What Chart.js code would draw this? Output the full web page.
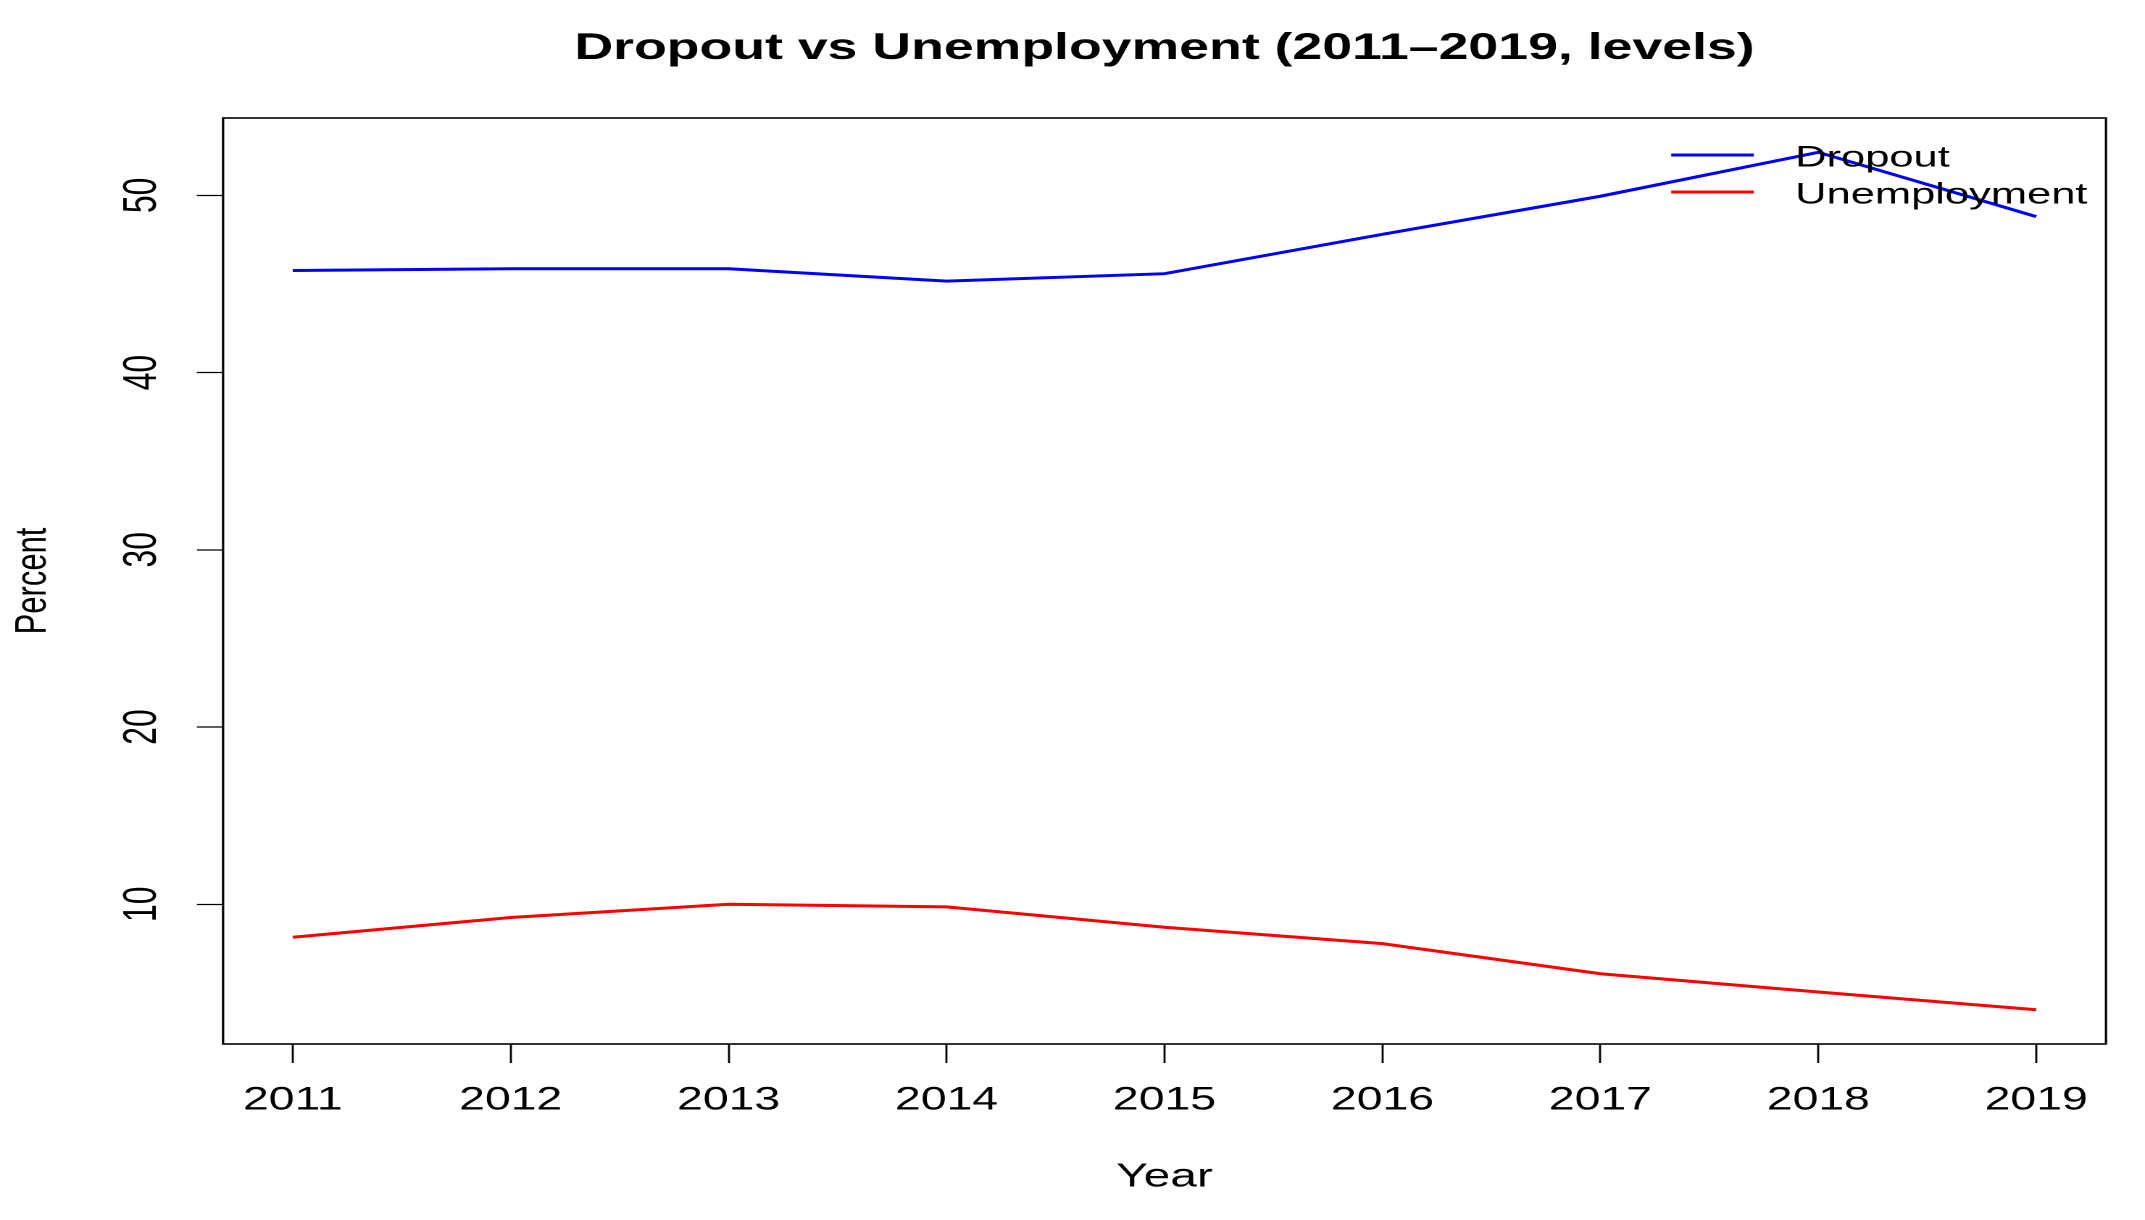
<!DOCTYPE html>
<html>
<head>
<meta charset="utf-8">
<title>Dropout vs Unemployment</title>
<script src="https://cdn.jsdelivr.net/npm/chart.js@4.4.1/dist/chart.umd.min.js"></script>
<style>
  html, body { margin: 0; padding: 0; background: #fff; overflow: hidden; }
  /* the picture is stretched sideways: draw it narrower, then widen it */
  #wrap { width: 1480px; height: 1220px; transform: scaleX(1.4493); transform-origin: 0 0; }
</style>
</head>
<body>
<div id="wrap"><canvas id="chart"></canvas></div>
<script>
const years = [2011, 2012, 2013, 2014, 2015, 2016, 2017, 2018, 2019];
const dropout = [45.76, 45.86, 45.86, 45.16, 45.58, 47.8, 49.95, 52.43, 48.8];
const unemployment = [8.14, 9.25, 10.0, 9.85, 8.7, 7.78, 6.08, 5.05, 4.05];
const yTicks = [10, 20, 30, 40, 50];

const FONT = "'Liberation Sans', Arial, sans-serif";

// base R pads the data range by 4% on each side
const allValues = dropout.concat(unemployment);
const yLo = Math.min(...allValues);
const yHi = Math.max(...allValues);
const yPad = (yHi - yLo) * 0.04;
const xPad = (years[years.length - 1] - years[0]) * 0.04;

const toPoints = values => years.map((year, i) => ({ x: year, y: values[i] }));

// box around the plot and the borderless legend in the top right corner
const frameAndLegend = {
  id: "frameAndLegend",
  afterDatasetsDraw(chart) {
    const { ctx, chartArea: a } = chart;
    ctx.save();
    ctx.strokeStyle = "#000";
    ctx.lineWidth = 1.6;
    ctx.strokeRect(a.left, a.top, a.right - a.left, a.bottom - a.top);

    ctx.font = `30px ${FONT}`;
    ctx.textBaseline = "middle";
    ctx.textAlign = "left";
    chart.data.datasets.forEach((ds, i) => {
      const y = a.top + 37 + i * 37;
      ctx.strokeStyle = ds.borderColor;
      ctx.lineWidth = 3;
      ctx.beginPath();
      ctx.moveTo(a.right - 300, y);
      ctx.lineTo(a.right - 243, y);
      ctx.stroke();
      ctx.fillStyle = "#000";
      ctx.fillText(ds.label, a.right - 214.5, y + 3);
    });
    ctx.restore();
  }
};

Chart.defaults.color = "#000";
Chart.defaults.font.family = FONT;

new Chart(document.getElementById("chart"), {
  type: "line",
  data: {
    datasets: [
      {
        label: "Dropout",
        data: toPoints(dropout),
        borderColor: "#0000ff",
        borderWidth: 3,
        pointRadius: 0,
        tension: 0
      },
      {
        label: "Unemployment",
        data: toPoints(unemployment),
        borderColor: "#ff0000",
        borderWidth: 3,
        pointRadius: 0,
        tension: 0
      }
    ]
  },
  options: {
    responsive: true,
    maintainAspectRatio: false,
    animation: false,
    devicePixelRatio: 2,
    layout: { padding: { left: 0, right: 26.9, top: 0, bottom: 0 } },
    plugins: {
      legend: { display: false },
      tooltip: { enabled: false },
      title: {
        display: true,
        fullSize: false,
        text: "Dropout vs Unemployment (2011\u20132019, levels)",
        color: "#000",
        font: { size: 37, weight: "bold" },
        padding: { top: 26.8, bottom: 46.8 }
      }
    },
    scales: {
      x: {
        type: "linear",
        min: years[0] - xPad,
        max: years[years.length - 1] + xPad,
        afterBuildTicks: scale => { scale.ticks = years.map(v => ({ value: v })); },
        afterFit: scale => { scale.height = 176; },
        border: { display: false },
        grid: { drawOnChartArea: false, drawTicks: true, tickLength: 19, tickColor: "#000", tickWidth: 1.4 },
        ticks: {
          autoSkip: false,
          maxRotation: 0,
          padding: 18.5,
          font: { size: 32 },
          callback: v => String(v)
        },
        title: { display: true, text: "Year", font: { size: 33 }, padding: { top: 0, bottom: 23 } }
      },
      y: {
        type: "linear",
        min: yLo - yPad,
        max: yHi + yPad,
        afterBuildTicks: scale => { scale.ticks = yTicks.map(v => ({ value: v })); },
        afterFit: scale => { scale.width = 153.9; },
        border: { display: false },
        grid: { drawOnChartArea: false, drawTicks: true, tickLength: 18, tickColor: "#000", tickWidth: 1.3 },
        ticks: {
          minRotation: 90,
          maxRotation: 90,
          crossAlign: "center",
          padding: 19.4,
          font: { size: 32 },
          callback: v => String(v)
        },
        title: { display: true, text: "Percent", font: { size: 31 }, padding: { top: 4.5, bottom: 0 } }
      }
    }
  },
  plugins: [frameAndLegend]
});
</script>
</body>
</html>
